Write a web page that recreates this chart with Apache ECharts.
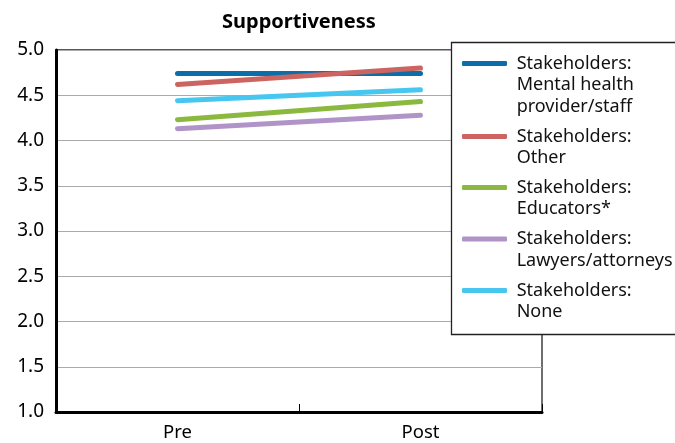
<!DOCTYPE html>
<html>
<head>
<meta charset="utf-8">
<script src="https://cdn.jsdelivr.net/npm/echarts@6/dist/echarts.min.js"></script>
<style>html,body{margin:0;padding:0;background:#fff;}#c{width:675px;height:443px;}</style>
</head>
<body>
<div id="c"></div>
<script>
const categories = ['Pre', 'Post'];
const seriesNames = [
  'Stakeholders:\nMental health\nprovider/staff',
  'Stakeholders:\nOther',
  'Stakeholders:\nEducators*',
  'Stakeholders:\nLawyers/attorneys',
  'Stakeholders:\nNone'
];
const mentalHealth = [4.74, 4.74];
const other = [4.62, 4.80];
const educators = [4.23, 4.43];
const lawyers = [4.13, 4.28];
const none = [4.44, 4.56];
const yTicks = [1.0, 1.5, 2.0, 2.5, 3.0, 3.5, 4.0, 4.5, 5.0];
const colors = ['#0b6ea8', '#cc6461', '#8bb83f', '#b094c7', '#47c6f0'];
const values = [mentalHealth, other, educators, lawyers, none];

const FONT = 'Noto Sans';
const LH = 21.5;
const firstLineCenters = [63.5, 136.5, 187.5, 239, 290.5];

const legends = seriesNames.map((name, i) => {
  const n = name.split('\n').length;
  const totalLines = 2 * n - 1;
  const boxH = totalLines * LH;
  return {
    orient: 'vertical',
    left: 462,
    top: firstLineCenters[i] - boxH / 2,
    padding: 0,
    itemWidth: 45,
    itemHeight: 5,
    itemGap: 0,
    icon: 'roundRect',
    selectedMode: false,
    z: 20,
    formatter: nm => {
      const parts = nm.split('\n');
      const cnt = parts.length;
      const lines = [];
      for (let k = 0; k < cnt - 1; k++) lines.push(' ');
      parts.forEach(s => lines.push(' ' + s));
      return lines.join('\n');
    },
    textStyle: { fontFamily: FONT, fontSize: 18, color: '#111', lineHeight: LH },
    data: [{ name: name, itemStyle: { color: colors[i] } }]
  };
});

const chart = echarts.init(document.getElementById('c'), null, { renderer: 'canvas' });
chart.setOption({
  animation: false,
  backgroundColor: '#fff',
  title: {
    text: 'Supportiveness',
    left: 222,
    top: 10,
    padding: 0,
    textStyle: { fontFamily: FONT, fontSize: 20, fontWeight: 'bold', color: '#000', lineHeight: 24 }
  },
  grid: { left: 56, right: 133, top: 50, bottom: 31, show: true, borderColor: '#222', borderWidth: 1.3, backgroundColor: 'transparent' },
  legend: legends,
  graphic: [{
    type: 'rect',
    z: 10,
    shape: { x: 451.5, y: 42.5, width: 240, height: 292 },
    style: { fill: '#fff', stroke: '#222', lineWidth: 1.3 }
  }],
  xAxis: {
    type: 'category',
    data: categories,
    boundaryGap: true,
    axisLine: { lineStyle: { color: '#000', width: 3 } },
    axisTick: { show: true, inside: true, length: 8, lineStyle: { color: '#000', width: 1 } },
    axisLabel: { fontFamily: FONT, fontSize: 18.5, color: '#000', margin: 11 }
  },
  yAxis: {
    type: 'value',
    min: yTicks[0],
    max: yTicks[yTicks.length - 1],
    interval: 0.5,
    axisLine: { show: true, lineStyle: { color: '#000', width: 3 } },
    axisTick: { show: false },
    axisLabel: { fontFamily: FONT, fontSize: 19, color: '#000', margin: 12, formatter: v => v.toFixed(1) },
    splitLine: { show: true, lineStyle: { color: '#aaa', width: 1.2 } }
  },
  series: seriesNames.map((name, i) => ({
    name: name,
    type: 'line',
    data: values[i],
    showSymbol: false,
    symbol: 'none',
    color: colors[i],
    lineStyle: { width: 5, color: colors[i], cap: 'round' },
    z: 2 + (i === 1 ? 1 : 0)
  }))
});
</script>
</body>
</html>
